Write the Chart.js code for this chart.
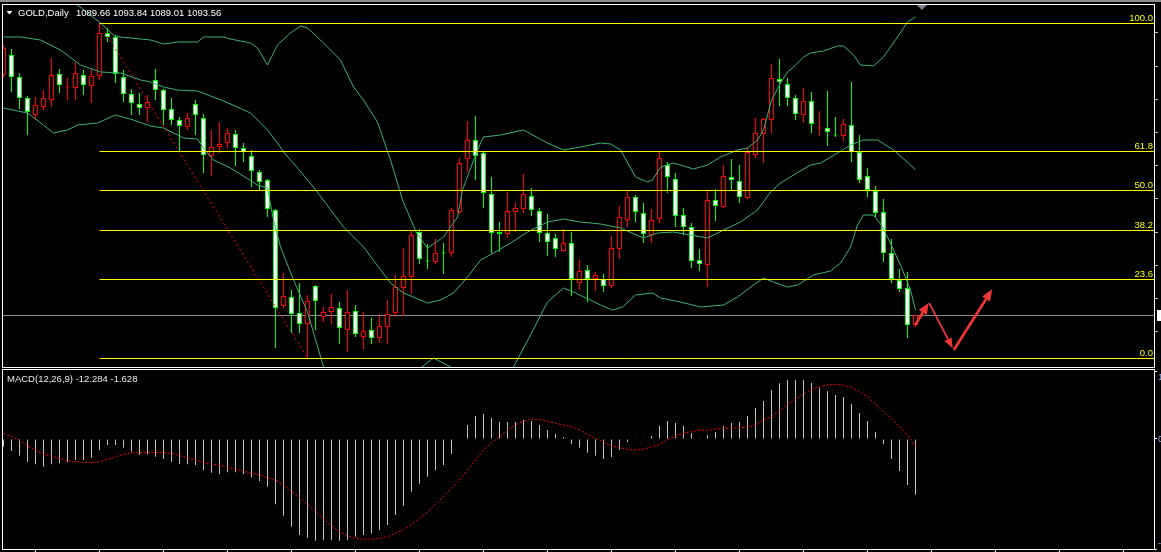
<!DOCTYPE html>
<html>
<head>
<meta charset="utf-8">
<title>GOLD,Daily</title>
<script src="https://cdn.jsdelivr.net/npm/chart.js@4.4.1/dist/chart.umd.min.js"></script>
<style>
  html, body { margin: 0; padding: 0; background: #000; width: 1161px; height: 552px; overflow: hidden; }
  .strip { position: absolute; left: 0; top: 0; width: 1161px; height: 2px; background: #8c8c8c; }
  #priceChart { position: absolute; left: 0; top: 0; }
  #macdChart { position: absolute; left: 0; top: 369px; }
</style>
</head>
<body>
<div class="strip"></div>
<canvas id="priceChart" width="1210" height="369"></canvas>
<canvas id="macdChart" width="1210" height="183"></canvas>
<script>
const symbol = 'GOLD,Daily';

// daily candles, oldest first
const candleOpen = [
  1187.28, 1195.08, 1186.50, 1178.31, 1171.68, 1174.80, 1177.53, 1187.67, 1182.40, 1182.21,
  1187.28, 1182.99, 1186.89, 1203.66, 1202.10, 1186.50, 1179.87, 1175.97, 1174.41, 1185.33,
  1181.43, 1174.02, 1169.73, 1167.00, 1175.97, 1170.51, 1155.69, 1159.20, 1160.76, 1164.27,
  1158.81, 1155.69, 1149.45, 1146.33, 1134.63, 1097.19, 1100.70, 1094.46, 1090.17, 1104.99,
  1092.90, 1094.85, 1096.41, 1087.83, 1095.24, 1085.10, 1087.83, 1084.71, 1089.00, 1094.46,
  1104.21, 1108.50, 1126.05, 1114.93, 1114.35, 1118.05, 1117.86, 1133.85, 1154.52, 1161.93,
  1156.86, 1140.87, 1126.05, 1125.27, 1133.85, 1135.02, 1140.09, 1134.24, 1125.66, 1123.71,
  1118.64, 1121.76, 1106.16, 1111.23, 1107.72, 1107.72, 1104.99, 1119.42, 1130.73, 1139.70,
  1133.46, 1124.88, 1131.12, 1152.18, 1146.72, 1132.68, 1128.00, 1115.13, 1113.18, 1138.53,
  1135.80, 1147.50, 1145.94, 1139.31, 1156.08, 1164.27, 1169.73, 1185.72, 1183.77, 1178.31,
  1171.68, 1177.14, 1166.42, 1166.61, 1164.08, 1163.49, 1167.78, 1157.25, 1147.89, 1142.04,
  1133.85, 1117.86, 1107.33, 1104.21, 1089.66
];
const candleHigh = [
  1198.98, 1197.42, 1188.06, 1179.09, 1178.70, 1181.43, 1193.91, 1189.62, 1186.11, 1192.35,
  1189.23, 1190.01, 1207.36, 1205.61, 1202.49, 1189.23, 1181.82, 1180.26, 1179.48, 1189.62,
  1181.82, 1178.31, 1170.90, 1172.46, 1177.53, 1172.07, 1165.83, 1168.95, 1166.61, 1165.83,
  1160.76, 1158.03, 1150.23, 1146.72, 1135.02, 1110.06, 1103.43, 1106.16, 1101.48, 1105.38,
  1096.80, 1101.87, 1098.75, 1103.43, 1097.58, 1094.85, 1092.51, 1094.07, 1099.53, 1109.28,
  1119.81, 1126.83, 1127.22, 1121.37, 1123.32, 1121.76, 1135.41, 1154.91, 1169.34, 1171.29,
  1157.25, 1147.50, 1129.95, 1141.65, 1137.36, 1148.67, 1143.21, 1135.41, 1133.07, 1125.27,
  1127.22, 1126.05, 1115.13, 1113.18, 1110.45, 1109.67, 1124.49, 1136.19, 1142.04, 1140.48,
  1137.36, 1135.02, 1157.25, 1153.35, 1149.06, 1135.41, 1129.56, 1119.42, 1142.04, 1142.82,
  1152.18, 1154.52, 1152.18, 1159.20, 1170.51, 1170.51, 1191.57, 1193.52, 1186.11, 1179.48,
  1182.21, 1180.65, 1173.24, 1181.04, 1170.90, 1170.12, 1184.55, 1163.88, 1151.01, 1143.99,
  1138.92, 1123.32, 1111.62, 1110.45, 1093.84
];
const candleLow = [
  1186.11, 1180.65, 1174.02, 1163.88, 1169.73, 1173.63, 1174.80, 1180.26, 1177.53, 1177.53,
  1179.48, 1176.36, 1185.33, 1200.15, 1184.16, 1176.75, 1171.68, 1171.68, 1168.95, 1177.53,
  1167.78, 1167.78, 1157.25, 1165.83, 1163.88, 1149.06, 1147.89, 1156.86, 1158.81, 1151.79,
  1153.35, 1143.60, 1142.43, 1131.90, 1080.81, 1096.41, 1086.66, 1086.66, 1076.91, 1087.83,
  1090.95, 1090.17, 1082.37, 1079.25, 1085.10, 1080.42, 1082.37, 1082.76, 1082.37, 1092.90,
  1093.29, 1101.87, 1113.57, 1111.62, 1113.57, 1109.67, 1116.30, 1133.07, 1149.45, 1146.33,
  1135.41, 1117.86, 1118.25, 1123.71, 1126.05, 1133.46, 1132.29, 1122.15, 1116.69, 1116.30,
  1118.25, 1101.09, 1103.43, 1098.75, 1103.04, 1102.65, 1104.21, 1115.52, 1128.00, 1129.95,
  1121.76, 1121.76, 1129.56, 1141.26, 1128.00, 1124.88, 1112.01, 1110.84, 1104.60, 1130.34,
  1135.41, 1142.43, 1137.36, 1138.92, 1154.91, 1152.96, 1164.66, 1175.19, 1175.19, 1169.73,
  1168.56, 1164.66, 1163.49, 1159.59, 1163.10, 1161.54, 1153.35, 1145.16, 1139.70, 1131.90,
  1114.35, 1106.16, 1102.65, 1084.71, 1089.01
];
const candleClose = [
  1197.81, 1186.50, 1178.31, 1172.85, 1175.58, 1178.31, 1187.28, 1183.38, 1182.79, 1188.06,
  1183.38, 1186.89, 1203.66, 1202.10, 1187.67, 1179.87, 1176.36, 1174.41, 1176.75, 1181.43,
  1173.63, 1169.73, 1167.39, 1170.51, 1171.68, 1156.08, 1159.20, 1160.37, 1164.66, 1158.81,
  1157.25, 1149.84, 1145.55, 1135.02, 1096.41, 1101.09, 1094.07, 1090.17, 1099.14, 1099.14,
  1094.85, 1096.80, 1088.61, 1094.85, 1086.27, 1087.44, 1084.71, 1089.39, 1094.07, 1104.60,
  1108.89, 1124.88, 1115.52, 1114.54, 1117.86, 1117.67, 1134.63, 1152.96, 1161.93, 1155.69,
  1141.26, 1125.66, 1125.27, 1134.24, 1135.41, 1140.87, 1134.63, 1125.66, 1122.15, 1119.42,
  1121.76, 1107.72, 1110.84, 1107.72, 1109.28, 1104.99, 1119.81, 1131.90, 1139.70, 1133.85,
  1125.27, 1130.73, 1154.91, 1147.50, 1132.29, 1128.00, 1114.74, 1113.57, 1138.53, 1136.19,
  1147.89, 1146.33, 1139.70, 1157.25, 1164.66, 1170.12, 1186.11, 1184.55, 1178.31, 1172.07,
  1177.14, 1168.17, 1166.81, 1165.05, 1163.69, 1168.17, 1157.25, 1146.33, 1142.43, 1133.46,
  1117.86, 1107.72, 1103.82, 1089.78, 1093.56
];

// Bollinger bands: [bar index, price]
const bbUpper = [
  [0, 1226.28], [4.63, 1223.55], [7.75, 1218.09], [9.25, 1214.58], [12.13, 1207.56], [13.75, 1202.88],
  [14.63, 1202.10], [18.38, 1200.93], [20, 1199.37], [21.75, 1200.15], [24.25, 1200.15], [25, 1202.10],
  [27.5, 1202.10], [28.38, 1201.32], [30.88, 1199.76], [31.75, 1197.81], [33, 1191.18], [34.25, 1198.98],
  [35.88, 1203.66], [37.13, 1206.39], [38, 1205.61], [39.63, 1200.93], [42.13, 1193.13], [43.75, 1182.60],
  [45, 1177.53], [46.75, 1168.95], [48.38, 1154.13], [49.88, 1138.53], [51.63, 1125.66], [53, 1119.81],
  [55, 1124.10], [56.75, 1131.90], [57.38, 1142.43], [58.63, 1152.96], [59.63, 1160.76], [60, 1163.10],
  [62.13, 1163.88], [65, 1165.83], [68, 1160.76], [70, 1158.03], [72.13, 1159.20], [74.63, 1160.76],
  [75.88, 1160.37], [77.13, 1158.03], [79, 1147.50], [80.5, 1145.55], [81.13, 1146.33], [82.13, 1151.40],
  [83.75, 1152.96], [86.25, 1150.62], [88, 1152.18], [89.63, 1155.30], [91.75, 1158.03], [93, 1158.81],
  [94.25, 1161.93], [95, 1165.83], [96, 1177.53], [97.13, 1184.16], [98, 1188.45], [98.75, 1190.40],
  [100, 1194.30], [100.88, 1195.86], [102.5, 1196.64], [104.25, 1198.59], [105, 1198.59], [106.25, 1195.08],
  [107.13, 1191.18], [108.75, 1190.79], [110, 1194.30], [111.75, 1202.10], [113, 1207.95], [114, 1209.90]
];
const bbMiddle = [
  [0, 1202.10], [2.13, 1202.10], [4.63, 1200.93], [7.13, 1197.03], [9.63, 1191.18], [12.13, 1188.45],
  [14.63, 1188.06], [17.13, 1185.33], [18.38, 1184.55], [20, 1182.60], [21.75, 1181.43], [24.25, 1181.04],
  [25.88, 1179.09], [27.5, 1177.14], [29.25, 1174.80], [30.88, 1172.46], [31.75, 1169.73], [33, 1165.83],
  [34.25, 1160.76], [35, 1157.25], [36.75, 1151.01], [38.75, 1143.60], [42.5, 1128.00], [45, 1120.20],
  [48.38, 1106.16], [50, 1102.26], [53, 1098.36], [54.63, 1099.53], [56.25, 1102.26], [58, 1108.50],
  [59.63, 1115.13], [61.25, 1117.86], [63.38, 1121.76], [65.5, 1126.05], [68, 1129.95], [70, 1131.12],
  [72.13, 1129.95], [74.63, 1129.17], [77.13, 1127.61], [80, 1123.71], [81.75, 1125.66], [83.75, 1126.05],
  [85.88, 1124.88], [88, 1123.71], [90, 1126.83], [92.13, 1129.95], [94.25, 1134.63], [95.88, 1141.65],
  [97.13, 1145.16], [98.75, 1148.28], [100.88, 1152.18], [102.13, 1152.96], [104.25, 1156.86], [105.88, 1159.98],
  [107.5, 1161.93], [109.25, 1161.93], [111.25, 1158.03], [113.38, 1152.18], [114, 1150.23]
];
const bbLower = [
  [0, 1174.41], [3, 1172.46], [5, 1167.78], [6.25, 1164.66], [8, 1165.83], [9.25, 1167.78],
  [11.75, 1168.56], [14, 1171.68], [16.25, 1169.73], [18.38, 1167.39], [20, 1166.61], [21.75, 1163.88],
  [22.5, 1162.71], [24.25, 1162.32], [25, 1158.81], [26.25, 1154.13], [28.38, 1151.01], [31.75, 1144.38],
  [33, 1143.21], [33.75, 1130.73], [34.63, 1120.20], [36.25, 1107.33], [38, 1094.85], [40, 1073.40],
  [42.13, 1056.63], [45.88, 1044.93], [49.63, 1056.63], [52.13, 1073.01], [53.75, 1076.91], [55.88, 1073.40],
  [59.63, 1066.38], [63.75, 1073.40], [65.88, 1085.88], [68, 1098.75], [70, 1104.21], [71.5, 1102.26],
  [74.63, 1097.58], [76.13, 1095.63], [77.38, 1096.80], [79, 1101.48], [81.13, 1102.26], [82.13, 1100.31],
  [84.63, 1098.75], [87.13, 1096.80], [90, 1097.58], [91.75, 1100.70], [93.75, 1105.38], [95, 1108.11],
  [96.25, 1106.55], [98, 1104.60], [99.25, 1105.38], [101.25, 1109.28], [103.38, 1110.84], [104.63, 1113.96],
  [105.88, 1120.20], [106.75, 1128.78], [107.5, 1132.68], [108.75, 1132.68], [109.63, 1129.17], [110.5, 1124.10],
  [112.13, 1113.18], [113.38, 1103.43], [114, 1095.63]
];

// Fibonacci retracement from the swing high bar to the swing low bar
const fibLevels = [0, 23.6, 38.2, 50, 61.8, 100];
const fibFromIndex = 12;
const fibToIndex = 38;

// hand-drawn forecast arrows: [from bar, from price, to bar, to price]
const arrowPath = [
  [113.96, 1089.78, 115.66, 1098.48],
  [115.72, 1098.30, 118.66, 1080.69],
  [118.79, 1080.03, 123.59, 1103.70]
];

const priceTicks = [1087.15, 1100.10, 1113.05, 1126.00, 1138.95, 1151.90, 1164.85, 1177.80, 1190.75, 1203.70];

// MACD(12,26,9)
const macdMain = [
  -1.69, -2.65, -3.67, -5.00, -5.59, -6.10, -5.59, -5.37, -5.15, -4.63,
  -4.63, -4.12, -2.43, -1.32, -1.32, -1.91, -2.79, -3.53, -3.38, -3.90,
  -4.41, -5.00, -5.51, -5.59, -5.73, -6.84, -7.43, -7.72, -7.35, -7.35,
  -7.72, -8.45, -9.26, -10.51, -14.41, -16.91, -19.33, -21.17, -21.76, -22.43,
  -22.27, -22.27, -22.43, -22.27, -21.54, -21.17, -20.80, -20.07, -18.96, -16.76,
  -14.70, -11.61, -9.85, -8.30, -6.84, -5.73, -3.23, 0.00, 3.09, 5.07,
  5.51, 4.71, 3.75, 3.75, 3.75, 4.19, 3.97, 3.09, 1.99, 1.10,
  0.44, -1.10, -1.91, -3.01, -3.68, -4.41, -3.97, -2.43, -0.66, 0.15,
  0.15, 0.66, 2.87, 3.97, 3.53, 2.87, 1.32, 0.15, 0.88, 1.54,
  2.87, 3.53, 3.75, 5.07, 6.84, 8.38, 10.88, 12.28, 13.01, 13.01,
  13.01, 12.35, 11.32, 10.59, 9.71, 9.26, 7.72, 5.74, 3.97, 1.54,
  -1.10, -4.41, -7.06, -10.15, -12.284
];
const macdSignal = [
  1.26, 0.51, -0.22, -1.47, -2.43, -3.38, -3.75, -4.26, -4.78, -5.00,
  -5.15, -5.22, -5.00, -4.48, -3.90, -3.38, -3.01, -3.01, -2.94, -2.94,
  -3.01, -3.16, -3.67, -4.12, -4.63, -5.22, -5.51, -5.73, -6.25, -6.69,
  -7.06, -7.57, -7.94, -8.53, -9.04, -10.14, -11.47, -12.94, -14.41, -16.03,
  -17.64, -19.11, -20.44, -21.39, -21.90, -22.05, -22.05, -21.90, -21.54, -20.80,
  -20.00, -18.81, -17.64, -16.03, -14.41, -12.72, -10.87, -9.04, -6.84, -4.63,
  -2.43, -0.82, 0.51, 1.98, 3.09, 3.97, 4.34, 4.34, 3.97, 3.46,
  3.09, 2.71, 1.98, 1.04, 0.15, -0.60, -1.54, -1.91, -2.27, -2.43,
  -2.20, -1.76, -1.17, -0.22, 0.66, 1.26, 1.61, 1.91, 1.91, 2.13,
  2.35, 2.35, 2.50, 2.57, 3.09, 4.19, 4.92, 6.17, 7.64, 8.75,
  9.85, 10.95, 11.54, 11.91, 12.06, 11.91, 11.32, 10.44, 9.33, 7.64,
  6.03, 4.56, 2.71, 0.88, -1.628
];
const macdTicks = [14.84, 0, -24.26];

Chart.defaults.font.family = '"Liberation Sans", Arial, sans-serif';
Chart.defaults.font.size = 10;

const last = candleClose.length - 1;
const idx = candleClose.map((_, i) => i);
const upColor = '#ff0000';
const downColor = '#00ff00';
const bandColor = '#3cb371';
const candleLine = idx.map(i => candleClose[i] > candleOpen[i] ? upColor : downColor);
const candleFill = idx.map(i => candleClose[i] > candleOpen[i] ? '#000000' : '#ffffff');
const fibHigh = candleHigh[fibFromIndex];
const fibLow = candleLow[fibToIndex];
const textFont = '9.5px "Liberation Sans"';
const arrowWidths = [2.7, 1.7, 2.7];
const toPoints = arr => arr.map(([x, y]) => ({ x, y }));

function drawArrow(ctx, x1, y1, x2, y2, w) {
  const ang = Math.atan2(y2 - y1, x2 - x1);
  const head = 8 + w * 1.3, half = 2.5 + w * 0.8;
  const bx = x2 - head * Math.cos(ang);
  const by = y2 - head * Math.sin(ang);
  ctx.lineWidth = w;
  ctx.beginPath();
  ctx.moveTo(x1, y1);
  ctx.lineTo(bx, by);
  ctx.stroke();
  ctx.beginPath();
  ctx.moveTo(x2, y2);
  ctx.lineTo(bx + half * Math.sin(ang), by - half * Math.cos(ang));
  ctx.lineTo(bx - half * Math.sin(ang), by + half * Math.cos(ang));
  ctx.closePath();
  ctx.fill();
}

const priceDecor = {
  id: 'priceDecor',
  beforeDatasetsDraw(chart) {
    const { ctx, chartArea: a, scales: { y } } = chart;
    // bid line
    const by = Math.floor(y.getPixelForValue(candleClose[last])) + 0.5;
    ctx.save();
    ctx.strokeStyle = '#8c8c8c';
    ctx.lineWidth = 1;
    ctx.beginPath();
    ctx.moveTo(a.left, by);
    ctx.lineTo(a.right, by);
    ctx.stroke();
    ctx.restore();
  },
  afterDatasetsDraw(chart) {
    const { ctx, chartArea: a, scales: { x, y } } = chart;
    ctx.save();
    const x0 = x.getPixelForValue(fibFromIndex);
    ctx.font = textFont;
    ctx.textAlign = 'right';
    ctx.textBaseline = 'alphabetic';
    ctx.lineWidth = 1;
    fibLevels.forEach(lv => {
      const yy = Math.floor(y.getPixelForValue(fibLow + (fibHigh - fibLow) * lv / 100)) + 0.5;
      ctx.strokeStyle = '#ffff00';
      ctx.beginPath();
      ctx.moveTo(x0, yy);
      ctx.lineTo(a.right, yy);
      ctx.stroke();
      ctx.fillStyle = '#ffff00';
      ctx.fillText(lv.toFixed(1), a.right - 1, yy - 2.5);
    });
    ctx.strokeStyle = '#f03535';
    ctx.fillStyle = '#f03535';
    arrowPath.forEach(([k1, p1, k2, p2], i) => {
      drawArrow(ctx, x.getPixelForValue(k1), y.getPixelForValue(p1),
        x.getPixelForValue(k2), y.getPixelForValue(p2), arrowWidths[i]);
    });
    ctx.restore();
  },
  afterDraw(chart) {
    const { ctx, chartArea: a, scales: { x, y } } = chart;
    ctx.save();
    ctx.strokeStyle = '#ffffff';
    ctx.lineWidth = 1;
    ctx.strokeRect(a.left - 0.5, a.top - 0.5, a.right - a.left + 1, a.bottom - a.top + 1);

    // chart shift marker
    const mx = x.getPixelForValue(last + 0.8);
    ctx.fillStyle = '#7a838e';
    ctx.beginPath();
    ctx.moveTo(mx - 5, a.top);
    ctx.lineTo(mx + 5, a.top);
    ctx.lineTo(mx, a.top + 5);
    ctx.closePath();
    ctx.fill();

    // header
    ctx.fillStyle = '#ffffff';
    ctx.beginPath();
    ctx.moveTo(6.5, 11);
    ctx.lineTo(12.5, 11);
    ctx.lineTo(9.5, 14.5);
    ctx.closePath();
    ctx.fill();
    ctx.font = textFont;
    ctx.textAlign = 'left';
    ctx.textBaseline = 'alphabetic';
    ctx.fillText(symbol, 18, 16);
    const ohlc = [candleOpen[last], candleHigh[last], candleLow[last], candleClose[last]];
    ctx.fillText(ohlc.map(v => v.toFixed(2)).join(' '), 76, 16);

    // bid price label on the scale
    const by = Math.floor(y.getPixelForValue(candleClose[last])) + 0.5;
    ctx.fillStyle = '#ffffff';
    ctx.fillRect(a.right + 3, by - 5.5, 50, 11);
    ctx.fillStyle = '#000000';
    ctx.textBaseline = 'middle';
    ctx.fillText(candleClose[last].toFixed(2), a.right + 8, by);
    ctx.restore();
  }
};

const macdDecor = {
  id: 'macdDecor',
  afterDraw(chart) {
    const { ctx, chartArea: a, scales: { y } } = chart;
    ctx.save();
    ctx.strokeStyle = '#ffffff';
    ctx.lineWidth = 1;
    ctx.strokeRect(a.left - 0.5, a.top - 0.5, a.right - a.left + 1, a.bottom - a.top + 1);
    ctx.font = textFont;
    ctx.textAlign = 'left';
    ctx.textBaseline = 'alphabetic';
    ctx.fillStyle = '#e8e8e8';
    ctx.fillText('MACD(12,26,9) ' + macdMain[last].toFixed(3) + ' ' + macdSignal[last].toFixed(3), 7, 13);
    ctx.fillStyle = '#8ab4f8';
    macdTicks.forEach((v, i) => {
      const ty = y.getPixelForValue(v);
      if (i === 0) { ctx.textBaseline = 'top'; ctx.fillText(v.toFixed(4), a.right + 4, ty + 1); }
      else if (i === macdTicks.length - 1) { ctx.textBaseline = 'bottom'; ctx.fillText(v.toFixed(4), a.right + 4, ty - 1); }
      else { ctx.textBaseline = 'middle'; ctx.fillText(v.toFixed(4), a.right + 4, ty); }
    });
    ctx.restore();
  }
};

// price panel
new Chart(document.getElementById('priceChart'), {
  type: 'bar',
  data: {
    datasets: [
      { type: 'line', label: 'BB upper', data: toPoints(bbUpper), borderColor: bandColor, borderWidth: 1, pointRadius: 0, tension: 0, order: 0 },
      { type: 'line', label: 'BB middle', data: toPoints(bbMiddle), borderColor: bandColor, borderWidth: 1, pointRadius: 0, tension: 0, order: 0 },
      { type: 'line', label: 'BB lower', data: toPoints(bbLower), borderColor: bandColor, borderWidth: 1, pointRadius: 0, tension: 0, order: 0 },
      {
        type: 'line', label: 'Trend',
        data: [{ x: fibFromIndex, y: fibHigh }, { x: fibToIndex, y: fibLow }],
        borderColor: '#ff0000', borderWidth: 1, borderDash: [2, 3], pointRadius: 0, order: 0
      },
      {
        label: 'Body',
        data: idx.map(i => ({ x: i, y: [candleOpen[i], candleClose[i]] })),
        backgroundColor: candleFill, borderColor: candleLine, borderWidth: 1, borderSkipped: false,
        barThickness: 5, minBarLength: 1, grouped: false, inflateAmount: 0, order: 1
      },
      {
        label: 'Wick',
        data: idx.map(i => ({ x: i, y: [candleLow[i], candleHigh[i]] })),
        backgroundColor: candleLine, borderWidth: 0,
        barThickness: 1, grouped: false, inflateAmount: 0, order: 2
      }
    ]
  },
  options: {
    responsive: false,
    animation: false,
    layout: { padding: { left: 3, top: 5, right: 0, bottom: 2 } },
    plugins: { legend: { display: false }, tooltip: { enabled: false } },
    scales: {
      x: { type: 'linear', min: -0.0625, max: 143.8125, offset: false, display: false },
      y: {
        position: 'right',
        min: 1073.40,
        max: 1214.58,
        afterBuildTicks: s => { s.ticks = priceTicks.map(v => ({ value: v })); },
        afterFit: s => { s.width = 56; s.paddingTop = 0; s.paddingBottom = 0; },
        grid: { drawOnChartArea: false, drawTicks: true, tickLength: 4, tickColor: '#c8c8c8' },
        border: { display: false },
        ticks: { color: '#ffffff', padding: 8, font: { size: 9.5 }, callback: v => v.toFixed(2) }
      }
    }
  },
  plugins: [priceDecor]
});

// MACD panel
new Chart(document.getElementById('macdChart'), {
  type: 'bar',
  data: {
    datasets: [
      {
        type: 'line', label: 'Signal',
        data: idx.map(i => ({ x: i, y: macdSignal[i] })),
        borderColor: '#ff0000', borderWidth: 1, borderDash: [2, 2], pointRadius: 0, tension: 0, order: 0
      },
      {
        label: 'MACD',
        data: idx.map(i => ({ x: i, y: macdMain[i] })),
        backgroundColor: '#c0c0c0', barThickness: 1, grouped: false, inflateAmount: 0, order: 1
      }
    ]
  },
  options: {
    responsive: false,
    animation: false,
    layout: { padding: { left: 3, top: 1, right: 0, bottom: 0 } },
    plugins: { legend: { display: false }, tooltip: { enabled: false } },
    scales: {
      x: {
        type: 'linear', min: -0.0625, max: 143.8125, offset: false,
        afterFit: s => { s.height = 3; s.paddingLeft = 0; s.paddingRight = 0; },
        ticks: { display: false, stepSize: 8, includeBounds: false, maxTicksLimit: 30 },
        grid: { drawOnChartArea: false, tickLength: 3, tickColor: '#ffffff' },
        border: { display: false }
      },
      y: {
        position: 'right',
        min: -24.256,
        max: 15.215,
        afterBuildTicks: s => { s.ticks = macdTicks.map(v => ({ value: v })); },
        afterFit: s => { s.width = 56; s.paddingTop = 0; s.paddingBottom = 0; },
        ticks: { display: false },
        grid: { drawOnChartArea: false, tickLength: 3, tickColor: '#ffffff' },
        border: { display: false }
      }
    }
  },
  plugins: [macdDecor]
});
</script>
</body>
</html>
